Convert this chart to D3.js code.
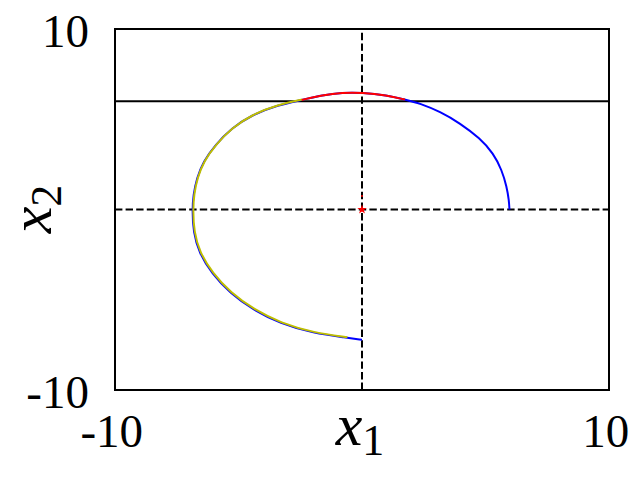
<!DOCTYPE html>
<meta charset="utf-8">
<style>
    body { margin: 0; background: #fff; }
    .tick text {
        font-family: "Liberation Serif", "DejaVu Serif", serif;
        font-size: 47px;
        fill: black;
    }
    .lbl {
        font-family: "Liberation Serif", "DejaVu Serif", serif;
        font-style: italic;
        fill: black;
    }
</style>

<div class="phase"></div>

<script src="https://cdn.jsdelivr.net/npm/d3@7"></script>

<script>
    // trajectory (x1, x2)
    var trajX1 = [5.97, 5.95, 5.86, 5.66, 5.32, 4.78, 3.97, 3.16, 2.35, 1.74, 1.0, 0.0, -0.8, -1.6, -2.44, -3.39, -4.47, -5.28, -5.95, -6.43, -6.69, -6.83, -6.87, -6.83, -6.60, -6.08, -5.34, -4.40, -3.32, -1.97, -0.62, 0.0];
    var trajX2 = [0.0, 0.5, 1.26, 2.19, 3.11, 3.94, 4.78, 5.42, 5.88, 6.09, 6.33, 6.48, 6.48, 6.34, 6.07, 5.79, 5.24, 4.50, 3.57, 2.65, 1.73, 0.80, -0.03, -1.25, -2.40, -3.55, -4.64, -5.57, -6.31, -6.86, -7.10, -7.22];
    // second (yellow) run, on top of the left part
    var yelX1 = [-2.44, -3.39, -4.47, -5.28, -5.95, -6.43, -6.69, -6.83, -6.87, -6.83, -6.60, -6.08, -5.34, -4.40, -3.32, -1.97, -0.62];
    var yelX2 = [6.07, 5.79, 5.24, 4.50, 3.57, 2.65, 1.73, 0.80, -0.03, -1.25, -2.40, -3.55, -4.64, -5.57, -6.31, -6.86, -7.10];
    var bound = 6;               // constraint x2 <= 6
    var eqX1 = [0, 0], eqX2 = [0, 0.75];
    var tickVals = [-10, 10];

    var W = 640, H = 478;
    var margin = {top: 29, right: 31, bottom: 88, left: 115},
        width = W - margin.left - margin.right,
        height = H - margin.top - margin.bottom;

    var svg = d3.select('.phase').append('svg')
        .attr('width', W).attr('height', H);

    var g = svg.append('g')
        .attr('transform', 'translate(' + margin.left + ',' + margin.top + ')');

    var x = d3.scaleLinear().domain([-10, 10]).range([0, width]);
    var y = d3.scaleLinear().domain([-10, 10]).range([height, 0]);

    function pts(a, b) { return a.map(function(v, i) { return [v, b[i]]; }); }

    var line = d3.line()
        .x(function(d) { return x(d[0]); })
        .y(function(d) { return y(d[1]); })
        .curve(d3.curveBasis);

    // dashed cross through origin
    g.append('line')
        .attr('x1', x(-10)).attr('x2', x(10)).attr('y1', y(0)).attr('y2', y(0))
        .attr('stroke', 'black').attr('stroke-width', 2).attr('stroke-dasharray', '7.4,3.2');
    g.append('line')
        .attr('x1', x(0)).attr('x2', x(0)).attr('y1', y(-10)).attr('y2', y(10))
        .attr('stroke', 'black').attr('stroke-width', 2).attr('stroke-dasharray', '7.4,3.2');

    // constraint line
    g.append('line')
        .attr('x1', x(-10)).attr('x2', x(10)).attr('y1', y(bound)).attr('y2', y(bound))
        .attr('stroke', 'black').attr('stroke-width', 2);

    var traj = pts(trajX1, trajX2);

    g.append('path').datum(traj)
        .attr('d', line)
        .attr('fill', 'none').attr('stroke', '#0000ff').attr('stroke-width', 2);

    g.append('path').datum(pts(yelX1, yelX2))
        .attr('d', line)
        .attr('transform', 'translate(0.7,-0.5)')
        .attr('fill', 'none').attr('stroke', '#bfbf00').attr('stroke-width', 2);

    // part violating the constraint
    g.append('path').datum(traj.filter(function(d) { return d[1] > bound; }))
        .attr('d', line)
        .attr('fill', 'none').attr('stroke', '#ff0000').attr('stroke-width', 2);

    // equilibrium marker
    g.append('path')
        .attr('d', d3.symbol().type(d3.symbolStar).size(28))
        .attr('transform', 'translate(' + x(eqX1[0]) + ',' + y(eqX2[0]) + ')')
        .attr('fill', '#ff0000');
    g.append('circle')
        .attr('cx', x(eqX1[1])).attr('cy', y(eqX2[1])).attr('r', 1)
        .attr('fill', '#ff0000');

    // frame
    g.append('rect')
        .attr('x', 0).attr('y', 0).attr('width', width).attr('height', height)
        .attr('fill', 'none').attr('stroke', 'black').attr('stroke-width', 2);

    var xAxis = d3.axisBottom(x).tickValues(tickVals).tickSize(0).tickPadding(24)
        .tickFormat(function(d) { return d; });
    var yAxis = d3.axisLeft(y).tickValues(tickVals).tickSize(0).tickPadding(26)
        .tickFormat(function(d) { return d; });

    var xg = g.append('g').attr('transform', 'translate(0,' + height + ')').call(xAxis);
    xg.select('.domain').remove();
    xg.selectAll('text').attr('font-family', null).attr('font-size', null).attr('dx', '-0.08em');

    var yg = g.append('g').call(yAxis);
    yg.select('.domain').remove();
    yg.selectAll('text').attr('font-family', null).attr('font-size', null).attr('dy', '0.38em');

    // axis labels
    var xl = svg.append('text').attr('class', 'lbl')
        .attr('x', 360).attr('y', 445)
        .attr('text-anchor', 'middle')
        .style('font-size', '60px');
    xl.append('tspan').text('x');
    xl.append('tspan').attr('dy', 10).style('font-size', '44px').style('font-style', 'normal').text('1');

    var yl = svg.append('text').attr('class', 'lbl')
        .attr('transform', 'translate(51,209) rotate(-90)')
        .attr('text-anchor', 'middle')
        .style('font-size', '60px');
    yl.append('tspan').text('x');
    yl.append('tspan').attr('dy', 10).style('font-size', '44px').style('font-style', 'normal').text('2');
</script>
